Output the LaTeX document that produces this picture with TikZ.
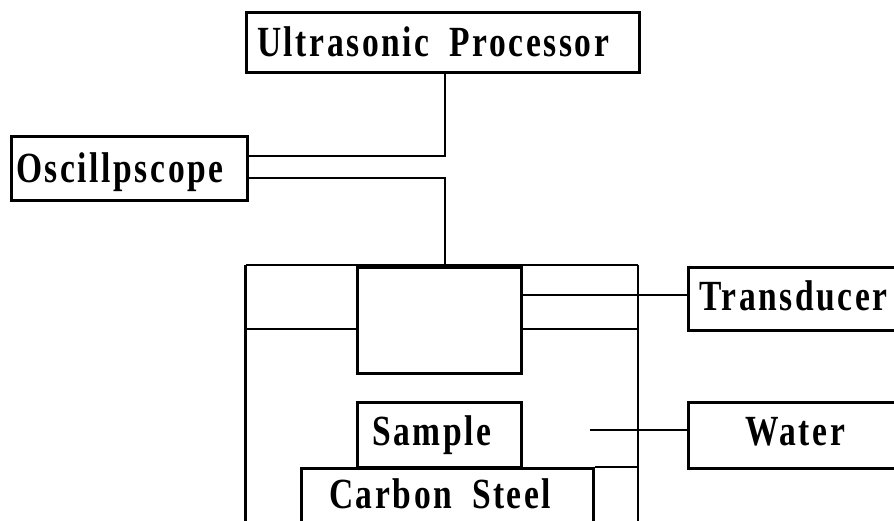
\documentclass[tikz,border=0pt]{standalone}
\usepackage{fontspec}
\setmainfont{Liberation Serif}
\newfontfamily\lblfont[FakeStretch=0.78,LetterSpace=6]{Liberation Serif}
\begin{document}
\begin{tikzpicture}[x=1pt,y=-1pt,
  box/.style={draw, line width=2.8pt, inner sep=0pt, anchor=north west},
  lbl/.style={anchor=base west, inner sep=0pt, font=\lblfont\bfseries\fontsize{43}{43}\selectfont},
  wire/.style={line width=2.8pt},
  thinwire/.style={line width=1.6pt}]
\clip (0,0) rectangle (894,520);
\fill[white] (0,0) rectangle (894,520);
% boxes
\node[box, minimum width=393pt, minimum height=60pt] (proc) at (245,11) {};
\node[box, minimum width=236pt, minimum height=64pt] (osc) at (10,135) {};
\node[box, minimum width=220pt, minimum height=63pt] (trans) at (687,266) {};
\node[box, minimum width=220pt, minimum height=66pt] (water) at (687,401) {};
\node[box, minimum width=164pt, minimum height=106pt] (inner) at (356,266) {};
\node[box, minimum width=164pt, minimum height=65pt] (sample) at (356,401) {};
\node[box, minimum width=292pt, minimum height=70pt] (steel) at (300,467) {};
% labels
\node[lbl] (procT) at (257,56) {Ultrasonic\hspace{20pt}Processor};
\node[lbl] (oscT) at (16,182) {Oscillpscope};
\node[lbl] (transT) at (699,310) {Transducer};
\node[lbl] (waterT) at (745,445) {Water};
\node[lbl] (sampleT) at (372,445) {Sample};
\node[lbl] (steelT) at (329,508) {Carbon\hspace{20pt}Steel};
% tank
\coordinate (tTL) at (245.5,265);
\coordinate (tTR) at (638,265);
\coordinate (tBL) at (245.5,530);
\coordinate (tBR) at (638,530);
\draw[thinwire] (tTL) -- (tTR);
\draw[wire] (tTL) -- (tBL);
\draw[wire] (tTR) -- (tBR);
% connectors
\coordinate (j1) at (445,156);
\coordinate (j2) at (445,178);
\coordinate (jt) at (445,265);
\coordinate (lw) at (0,329);
\coordinate (tw) at (0,295);
\coordinate (wa) at (590,430);
\draw[wire] (proc.south -| j1) |- (osc.east |- j1);
\draw[wire] (osc.east |- j2) -| (jt);
\draw[wire] (tTL |- lw) -- (inner.west |- lw);
\draw[wire] (inner.east |- tw) -- (trans.west |- tw);
\draw[wire] (inner.east |- lw) -- (tTR |- lw);
\draw[wire] (wa) -- (water.west |- wa);
\draw[thinwire] (steel.north east) -- (tTR |- steel.north east);
\end{tikzpicture}
\end{document}
